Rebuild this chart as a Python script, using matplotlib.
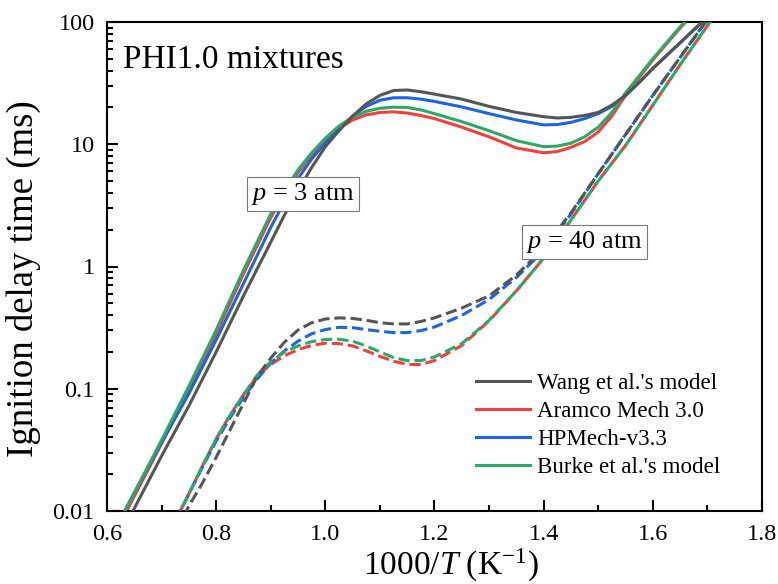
import numpy as np
import matplotlib
matplotlib.use("Agg")
import matplotlib.pyplot as plt
from matplotlib.lines import Line2D

plt.rcParams['font.family'] = ['Liberation Serif', 'DejaVu Serif']
plt.rcParams['mathtext.fontset'] = 'custom'
plt.rcParams['mathtext.rm'] = 'Liberation Serif'
plt.rcParams['mathtext.it'] = 'Liberation Serif:italic'

# ---------------- data (ignition delay time, ms) ----------------
x_3atm = [0.60, 0.65, 0.70, 0.75, 0.80, 0.85, 0.90, 0.925, 0.95, 0.975, 1.00,
          1.025, 1.05, 1.075, 1.10, 1.125, 1.15, 1.175, 1.20, 1.25, 1.30, 1.35,
          1.40, 1.425, 1.45, 1.475, 1.50, 1.525, 1.55, 1.575, 1.60, 1.625, 1.65, 1.70]

wang_3atm = [0.00389, 0.0105, 0.0282, 0.0724, 0.200, 0.575, 1.58, 2.63, 4.17, 6.46, 9.55,
             12.9, 17.0, 21.4, 25.1, 27.5, 27.8, 26.9, 25.7, 23.4, 20.4, 18.2,
             16.8, 16.4, 16.6, 17.2, 18.2, 20.9, 25.1, 32.0, 41.7, 53.1, 67.6, 110]
aramco_3atm = [0.00479, 0.0132, 0.0355, 0.0977, 0.282, 0.871, 2.51, 3.98, 5.89, 8.13, 10.7,
               13.5, 15.8, 17.4, 18.2, 18.4, 18.0, 17.2, 16.2, 13.8, 11.5, 9.33,
               8.51, 8.71, 9.44, 10.5, 12.6, 17.0, 25.1, 35.1, 49.0, 66.1, 89.1, 158]
hpmech_3atm = [0.00537, 0.0141, 0.0363, 0.0912, 0.251, 0.724, 2.09, 3.39, 5.25, 7.59, 10.2,
               13.5, 17.0, 20.4, 22.9, 24.0, 24.0, 23.4, 22.4, 20.2, 17.8, 15.8,
               14.4, 14.5, 15.1, 16.2, 17.8, 20.4, 25.1, 32.0, 41.7, 53.1, 67.6, 110]
burke_3atm = [0.00513, 0.0141, 0.0380, 0.105, 0.302, 0.933, 2.69, 4.17, 6.17, 8.51, 11.2,
              14.1, 16.6, 18.6, 19.7, 20.1, 20.0, 19.1, 17.8, 15.3, 12.9, 10.7,
              9.55, 9.66, 10.2, 11.5, 13.8, 18.2, 26.3, 36.3, 50.1, 67.6, 91.2, 158]

x_40atm = [0.70, 0.725, 0.75, 0.775, 0.80, 0.825, 0.85, 0.875, 0.90, 0.925, 0.95,
           0.975, 1.00, 1.025, 1.05, 1.075, 1.10, 1.125, 1.15, 1.175, 1.20, 1.25,
           1.30, 1.35, 1.40, 1.45, 1.50, 1.55, 1.60, 1.65, 1.70, 1.75]

wang_40atm = [0.00398, 0.00661, 0.0110, 0.0170, 0.0275, 0.0457, 0.0759, 0.126, 0.178, 0.240, 0.302,
              0.347, 0.372, 0.380, 0.376, 0.363, 0.347, 0.339, 0.339, 0.355, 0.380, 0.457,
              0.575, 0.851, 1.41, 2.75, 5.75, 12.0, 25.1, 51.3, 105, 214]
aramco_40atm = [0.00398, 0.00832, 0.0138, 0.0234, 0.0389, 0.0603, 0.0891, 0.126, 0.158, 0.186, 0.209,
                0.226, 0.236, 0.234, 0.224, 0.204, 0.184, 0.168, 0.158, 0.158, 0.170, 0.226,
                0.359, 0.631, 1.17, 2.40, 5.01, 9.77, 20.9, 44.7, 93.3, 195]
hpmech_40atm = [0.00417, 0.00813, 0.0138, 0.0229, 0.0372, 0.0575, 0.0851, 0.120, 0.162, 0.204, 0.245,
                0.282, 0.305, 0.318, 0.316, 0.305, 0.295, 0.288, 0.288, 0.299, 0.320, 0.398,
                0.537, 0.813, 1.35, 2.69, 5.75, 12.0, 25.1, 51.3, 105, 214]
burke_40atm = [0.00398, 0.00832, 0.0138, 0.0234, 0.0389, 0.0603, 0.0891, 0.129, 0.166, 0.200, 0.224,
               0.243, 0.253, 0.254, 0.245, 0.224, 0.200, 0.180, 0.170, 0.170, 0.182, 0.234,
               0.363, 0.631, 1.17, 2.40, 5.01, 9.77, 20.9, 44.7, 93.3, 195]

model_names = ["Wang et al.'s model", "Aramco Mech 3.0", "HPMech-v3.3", "Burke et al.'s model"]
model_colors = ['#555555', '#f04040', '#1e64dc', '#2ea866']

x_ticks = [0.6, 0.8, 1.0, 1.2, 1.4, 1.6, 1.8]
x_ticklabels = ['0.6', '0.8', '1.0', '1.2', '1.4', '1.6', '1.8']
y_ticks = [0.01, 0.1, 1, 10, 100]
y_ticklabels = ['0.01', '0.1', '1', '10', '100']

# ---------------- figure ----------------
fig = plt.figure(figsize=(7.78, 5.84), dpi=100)
ax = fig.add_axes([107/778, 73/584, 655/778, 489/584])

lw = 2.2
solid = {
    "Wang et al.'s model": wang_3atm, "Aramco Mech 3.0": aramco_3atm,
    "HPMech-v3.3": hpmech_3atm, "Burke et al.'s model": burke_3atm}
dashed = {
    "Wang et al.'s model": wang_40atm, "Aramco Mech 3.0": aramco_40atm,
    "HPMech-v3.3": hpmech_40atm, "Burke et al.'s model": burke_40atm}
order = {"Aramco Mech 3.0": 2, "HPMech-v3.3": 3, "Burke et al.'s model": 4, "Wang et al.'s model": 5}
offsets = {"Wang et al.'s model": 0.0, "Aramco Mech 3.0": 0.0,
           "HPMech-v3.3": 2.65, "Burke et al.'s model": 2.65}

for name, col in zip(model_names, model_colors):
    ax.plot(x_3atm, solid[name], color=col, lw=lw, zorder=order[name])
    ax.plot(x_40atm, dashed[name], color=col, lw=lw, zorder=order[name],
            linestyle=(offsets[name], (3.7, 1.6)))

ax.set_yscale('log')
ax.set_xlim(0.6, 1.8)
ax.set_ylim(0.01, 100)
ax.set_xticks(x_ticks)
ax.set_xticklabels(x_ticklabels)
ax.set_xticks(np.arange(0.7, 1.8, 0.2), minor=True)
ax.set_yticks(y_ticks)
ax.set_yticklabels(y_ticklabels)

for s in ax.spines.values():
    s.set_linewidth(1.5)
ax.tick_params(which='both', direction='in', top=False, right=False, width=1.5,
               labelsize=17.5)
ax.tick_params(axis='x', which='both', pad=9.5)
ax.tick_params(axis='y', which='both', pad=9)
ax.tick_params(which='major', length=8)
ax.tick_params(which='minor', length=4.5)
ax.tick_params(axis='y', which='minor', labelleft=False)

ax.set_xlabel(r'1000/$T$ (K$^{-1}$)', fontsize=24)
ax.set_ylabel('Ignition delay time (ms)', fontsize=26.5)
ax.xaxis.set_label_coords(0.525, -0.073)
ax.yaxis.set_label_coords(-0.10, 0.475)

ax.text(0.024, 0.955, 'PHI1.0 mixtures', transform=ax.transAxes, fontsize=24,
        ha='left', va='top')
box = dict(boxstyle='square,pad=0.15', fc='white', ec='#777777', lw=0.8)
ax.text(0.959, 3.95, r'$p$ = 3 atm', fontsize=19, ha='center', va='center', bbox=box, zorder=10)
ax.text(1.475, 1.585, r'$p$ = 40 atm', fontsize=19, ha='center', va='center', bbox=box, zorder=10)

handles = [Line2D([0], [0], color=c, lw=lw) for c in model_colors]
ax.legend(handles, model_names, loc='upper left', bbox_to_anchor=(0.563, 0.283),
          frameon=False, fontsize=16.6, handlelength=2.35, handletextpad=0.3,
          labelspacing=0.3, borderpad=0, borderaxespad=0)

fig.savefig('out.png', dpi=100)
